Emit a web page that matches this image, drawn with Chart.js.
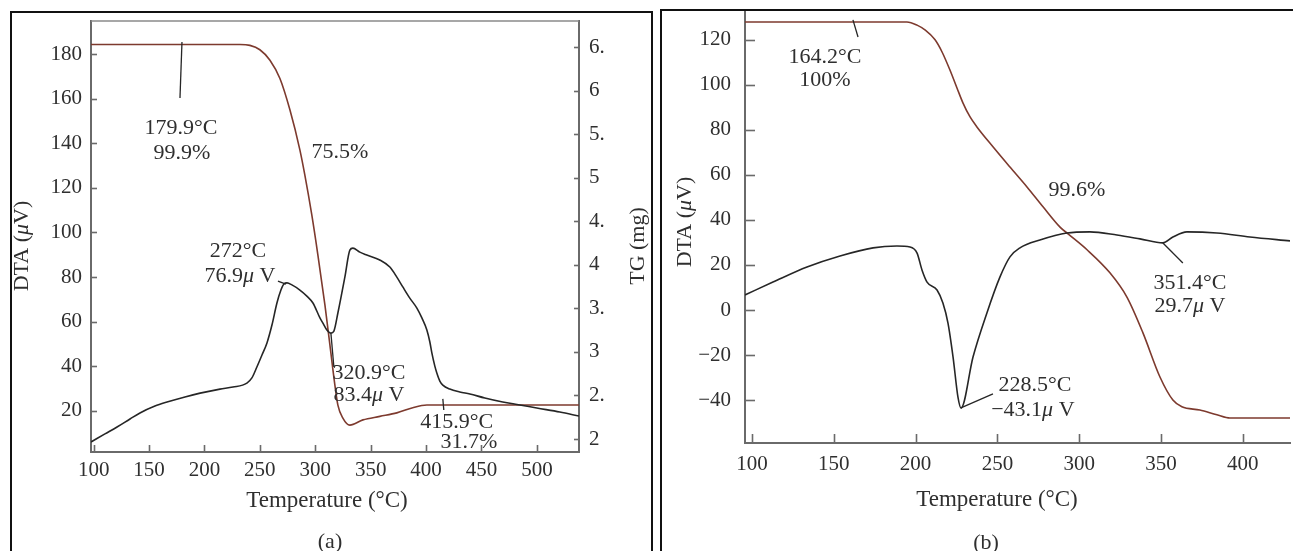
<!DOCTYPE html>
<html><head><meta charset="utf-8">
<script src="https://cdn.jsdelivr.net/npm/chart.js@4.4.1/dist/chart.umd.min.js"></script>
<style>
html,body{margin:0;padding:0;background:#fff;width:1293px;height:551px;overflow:hidden;position:relative}
canvas{position:absolute;left:0;top:0}
.panel{position:absolute;border:2px solid #111;box-sizing:border-box}
</style></head><body>
<div class="panel" style="left:10px;top:11px;width:643px;height:560px"></div>
<div class="panel" style="left:660px;top:9px;width:640px;height:560px"></div>
<canvas id="ca" width="1293" height="551"></canvas>
<canvas id="cb" width="1293" height="551"></canvas>
<script>
// ---------- Panel (a) data ----------
const dtaTempA = [97.6,110.2,121.1,132.8,141.8,155.3,166.2,182.4,196.1,214.0,225.7,238.3,242.8,247.3,251.9,256.4,260.9,265.4,269.0,271.7,274.5,278.9,286.1,292.4,297.9,304.2,306.9,310.5,314.1,316.8,320.4,326.7,331.2,333.9,340.2,346.5,358.2,367.3,373.6,379.0,385.3,391.7,396.2,400.7,403.4,405.2,407.9,409.7,412.4,415.1,421.4,430.4,439.5,453.0,469.2,484.6,499.9,520.7,538.0];
const dtaValA  = [6.1,9.7,12.8,16.4,19.1,22.2,24.0,26.3,28.0,29.8,30.7,32.5,34.8,39.7,45.1,50.5,58.5,68.4,74.2,76.9,77.4,76.5,74.2,71.5,68.4,61.7,59.4,56.3,54.9,55.8,63.9,80.0,92.1,93.0,91.2,89.9,87.7,84.5,80.0,75.6,70.6,66.1,61.7,56.3,50.9,46.0,40.1,37.0,33.4,31.6,29.8,28.5,27.6,25.8,24.0,22.7,21.3,19.5,17.7];
const tgTempA  = [97.6,232.0,241.0,250.0,259.1,268.1,277.1,286.1,290.6,296.9,302.4,308.7,313.2,317.7,320.4,324.9,331.2,343.0,358.3,373.6,388.0,400.7,409.7,538.0];
const tgMassA  = [6.53,6.53,6.52,6.47,6.35,6.14,5.78,5.32,5.03,4.57,4.11,3.54,3.08,2.62,2.39,2.24,2.16,2.22,2.26,2.30,2.36,2.39,2.39,2.39];
const xTicksA  = [100,150,200,250,300,350,400,450,500];
const dtaTicksA = [20,40,60,80,100,120,140,160,180];
const tgTicksA = [2,2.5,3,3.5,4,4.5,5,5.5,6,6.5];
const tgTickLabelsA = ['2','2.','3','3.','4','4.','5','5.','6','6.'];

// ---------- Panel (b) data ----------
const dtaTempB = [95.7,112.8,133.6,153.8,174.0,188.6,196.6,200.9,203.9,207.0,213.1,216.7,219.8,222.9,225.9,227.8,235.1,243.6,251.6,257.7,263.8,276.0,292.5,306.6,323.1,337.2,351.2,357.3,365.9,384.2,404.4,428.9];
const dtaValB  = [6.7,12.4,19.1,24.0,27.6,28.4,28.0,25.3,17.8,12.4,8.9,3.1,-5.8,-20.9,-38.7,-43.6,-20.9,-1.3,14.7,23.6,27.6,31.1,34.2,34.7,33.3,31.6,29.8,32.4,34.7,34.2,32.4,30.7];
const tgTempB  = [95.7,194.7,200.9,205.7,211.9,216.1,221.0,225.3,229.0,233.3,237.5,247.3,257.7,268.1,277.9,288.3,293.2,304.8,318.8,329.2,339.0,349.4,357.3,362.8,373.8,384.2,392.2,428.9];
const tgPctB   = [100,100,99.2,98.0,95.5,92.5,87.9,83.4,79.6,76.1,73.6,68.6,63.5,58.5,53.5,48.4,46.7,42.7,36.9,30.8,21.8,10.7,4.9,3.2,2.4,1.2,0.4,0.4];
const xTicksB  = [100,150,200,250,300,350,400];
const dtaTicksB = [-40,-20,0,20,40,60,80,100,120];

// ---------- styles ----------
const FONT = 'Liberation Serif';
const TEXT = '#2f2f2f';
const AXIS = '#6a6a6a';
const DTA_COLOR = '#262626';
const TG_COLOR = '#7d3a2e';

function pts(xs, ys){ return xs.map((x,i)=>({x:x, y:ys[i]})); }
function fixTicks(list){ return s => { s.ticks = list.map(v=>({value:v})); }; }
function minus(v){ return String(v).replace('-', '\u2212'); }

function drawRich(ctx, str, cx, cy, size, rot){
  const parts = [];
  str.split('μ').forEach((p,i)=>{ if(i>0) parts.push(['μ',true]); if(p) parts.push([p,false]); });
  const fonts = parts.map(p => (p[1]?'italic ':'') + size + 'px "' + FONT + '"');
  let w = 0;
  const ws = parts.map((p,i)=>{ ctx.font = fonts[i]; const m = ctx.measureText(p[0]).width; w += m; return m; });
  ctx.save();
  ctx.translate(cx, cy);
  if (rot) ctx.rotate(rot);
  ctx.textBaseline = 'middle'; ctx.textAlign = 'left';
  let x = -w/2;
  parts.forEach((p,i)=>{ ctx.font = fonts[i]; ctx.fillText(p[0], x, 0); x += ws[i]; });
  ctx.restore();
}

const inTicks = {
  id: 'inTicks',
  afterDraw(chart, args, opts){
    const ctx = chart.ctx;
    ctx.save(); ctx.strokeStyle = opts.color; ctx.lineWidth = opts.width;
    Object.entries(opts.len).forEach(([id,len])=>{
      const s = chart.scales[id];
      s.ticks.forEach(t=>{
        const p = Math.round(s.getPixelForValue(t.value)) + 0.5;
        ctx.beginPath();
        if (s.isHorizontal()) { ctx.moveTo(p, s.top); ctx.lineTo(p, s.top - len); }
        else if (s.position === 'left') { ctx.moveTo(s.right, p); ctx.lineTo(s.right + len, p); }
        else { ctx.moveTo(s.left, p); ctx.lineTo(s.left - len, p); }
        ctx.stroke();
      });
    });
    if (opts.topFrame) {
      const a = chart.chartArea;
      ctx.strokeStyle = opts.frameColor; ctx.lineWidth = 1.5;
      ctx.beginPath(); ctx.moveTo(a.left, a.top); ctx.lineTo(a.right, a.top); ctx.stroke();
    }
    ctx.restore();
  }
};

const texts = {
  id: 'texts',
  afterDraw(chart, args, opts){
    const ctx = chart.ctx;
    const xs = chart.scales.x, ys = chart.scales.y;
    ctx.save();
    ctx.fillStyle = TEXT; ctx.strokeStyle = DTA_COLOR; ctx.lineWidth = 1.3;
    (opts.leaders||[]).forEach(l=>{
      ctx.beginPath();
      ctx.moveTo(xs.getPixelForValue(l[0]), ys.getPixelForValue(l[1]));
      ctx.lineTo(xs.getPixelForValue(l[2]), ys.getPixelForValue(l[3]));
      ctx.stroke();
    });
    (opts.labels||[]).forEach(a=>{
      drawRich(ctx, a.t, xs.getPixelForValue(a.x), ys.getPixelForValue(a.y), opts.size, 0);
    });
    (opts.titles||[]).forEach(a=>{
      drawRich(ctx, a.t, a.px, a.py, a.size || opts.size, a.rot || 0);
    });
    ctx.restore();
  }
};

const tickFont = {family: FONT, size: 21};
function baseScale(extra){
  return Object.assign({
    grid: {display: true, drawOnChartArea: false, drawTicks: false},
    border: {display: true, color: AXIS, width: 2},
  }, extra);
}

// ---------- Chart (a) ----------
new Chart(document.getElementById('ca'), {
  type: 'line',
  data: { datasets: [
    {label: 'DTA', data: pts(dtaTempA, dtaValA), yAxisID: 'y', borderColor: DTA_COLOR, borderWidth: 1.6, pointRadius: 0, cubicInterpolationMode: 'monotone', fill: false},
    {label: 'TG', data: pts(tgTempA, tgMassA), yAxisID: 'tg', borderColor: TG_COLOR, borderWidth: 1.6, pointRadius: 0, cubicInterpolationMode: 'monotone', fill: false}
  ]},
  options: {
    responsive: false, animation: false, devicePixelRatio: 1,
    layout: {padding: {left: 31, right: 654, top: 21, bottom: 59}},
    plugins: {
      legend: {display: false}, tooltip: {enabled: false},
      inTicks: {color: AXIS, width: 1.6, len: {x: 7, y: 6, tg: 5}, topFrame: true, frameColor: '#8a8a8a'},
      texts: {
        size: 22,
        labels: [
          {t: '179.9°C', x: 178.8, y: 146.8}, {t: '99.9%', x: 179.7, y: 135.6},
          {t: '75.5%', x: 322.2, y: 136.1},
          {t: '272°C', x: 230.2, y: 91.7}, {t: '76.9μ V', x: 232.0, y: 80.5},
          {t: '320.9°C', x: 348.4, y: 37.0}, {t: '83.4μ V', x: 348.4, y: 27.1},
          {t: '415.9°C', x: 427.7, y: 15.0}, {t: '31.7%', x: 438.6, y: 6.1}
        ],
        leaders: [
          [179.7,185.4,177.9,160.3],
          [266.3,78.2,273.5,76.9],
          [314.1,54.9,316.8,39.7],
          [415.1,25.4,416.0,20.4]
        ],
        titles: [
          {t: 'DTA (μV)', px: 22, py: 246, rot: -Math.PI/2},
          {t: 'TG (mg)', px: 638, py: 246, rot: -Math.PI/2},
          {t: 'Temperature (°C)', px: 327, py: 501, size: 23},
          {t: '(a)', px: 330, py: 542}
        ]
      }
    },
    scales: {
      x: baseScale({type: 'linear', position: 'bottom', min: 97.6, max: 538,
        afterBuildTicks: fixTicks(xTicksA),
        afterFit: s => { s.height = 40; s.paddingLeft = 0; s.paddingRight = 0; },
        ticks: {font: tickFont, color: TEXT, padding: 6, maxRotation: 0, autoSkip: false}}),
      y: baseScale({type: 'linear', position: 'left', min: 1.6, max: 194.8,
        afterBuildTicks: fixTicks(dtaTicksA),
        afterFit: s => { s.width = 60; s.paddingTop = 0; s.paddingBottom = 0; },
        ticks: {font: tickFont, color: TEXT, padding: 9, autoSkip: false}}),
      tg: baseScale({type: 'linear', position: 'right', min: 1.851, max: 6.80,
        afterBuildTicks: fixTicks(tgTicksA),
        afterFit: s => { s.width = 60; s.paddingTop = 0; s.paddingBottom = 0; },
        ticks: {font: tickFont, color: TEXT, padding: 10, autoSkip: false,
          callback: v => { const i = tgTicksA.indexOf(v); return i >= 0 ? tgTickLabelsA[i] : ''; }}})
    }
  },
  plugins: [inTicks, texts]
});

// ---------- Chart (b) ----------
new Chart(document.getElementById('cb'), {
  type: 'line',
  data: { datasets: [
    {label: 'DTA', data: pts(dtaTempB, dtaValB), yAxisID: 'y', borderColor: DTA_COLOR, borderWidth: 1.6, pointRadius: 0, cubicInterpolationMode: 'monotone', fill: false},
    {label: 'TG', data: pts(tgTempB, tgPctB), yAxisID: 'tg', borderColor: TG_COLOR, borderWidth: 1.6, pointRadius: 0, cubicInterpolationMode: 'monotone', fill: false}
  ]},
  options: {
    responsive: false, animation: false, devicePixelRatio: 1,
    layout: {padding: {left: 685, right: 3, top: 12, bottom: 68}},
    plugins: {
      legend: {display: false}, tooltip: {enabled: false},
      inTicks: {color: AXIS, width: 1.6, len: {x: 9, y: 10}, topFrame: false},
      texts: {
        size: 22,
        labels: [
          {t: '164.2°C', x: 144.6, y: 112.5}, {t: '100%', x: 144.6, y: 102.2},
          {t: '99.6%', x: 298.6, y: 53.3},
          {t: '351.4°C', x: 367.7, y: 12.0}, {t: '29.7μ V', x: 367.7, y: 1.8},
          {t: '228.5°C', x: 273.0, y: -33.3}, {t: '\u221243.1μ V', x: 271.7, y: -44.4}
        ],
        leaders: [
          [161.7,128.9,164.8,121.3],
          [351.2,29.8,363.4,20.9],
          [227.7,-43.5,247.3,-37.3]
        ],
        titles: [
          {t: 'DTA (μV)', px: 685, py: 222, rot: -Math.PI/2},
          {t: 'Temperature (°C)', px: 997, py: 500, size: 23},
          {t: '(b)', px: 986, py: 543}
        ]
      }
    },
    scales: {
      x: baseScale({type: 'linear', position: 'bottom', min: 95.7, max: 428.9,
        afterBuildTicks: fixTicks(xTicksB),
        afterFit: s => { s.height = 40; s.paddingLeft = 0; s.paddingRight = 0; },
        ticks: {font: tickFont, color: TEXT, padding: 9, maxRotation: 0, autoSkip: false}}),
      y: baseScale({type: 'linear', position: 'left', min: -59.1, max: 132.4,
        afterBuildTicks: fixTicks(dtaTicksB),
        afterFit: s => { s.width = 60; s.paddingTop = 0; s.paddingBottom = 0; },
        ticks: {font: tickFont, color: TEXT, padding: 14, autoSkip: false, callback: v => minus(v)}}),
      tg: {type: 'linear', position: 'right', display: false, min: -5.9, max: 102.5}
    }
  },
  plugins: [inTicks, texts]
});
</script>
</body></html>
